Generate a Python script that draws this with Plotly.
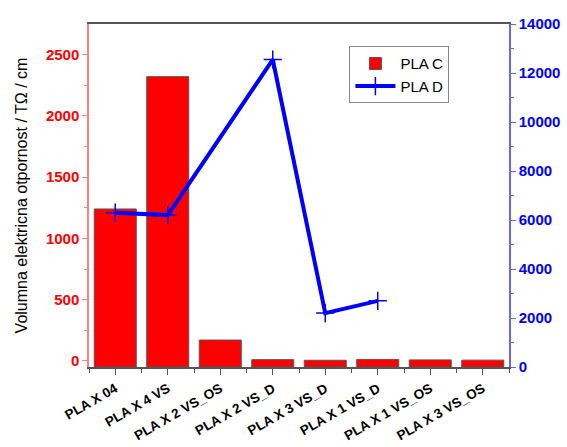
import plotly.graph_objects as go

categories = ["PLA X 04", "PLA X 4 VS", "PLA X 2 VS_OS", "PLA X 2 VS_D",
              "PLA X 3 VS_D", "PLA X 1 VS_D", "PLA X 1 VS_OS", "PLA X 3 VS_OS"]
pla_c = [1240, 2320, 170, 10, 5, 12, 8, 6]
pla_d = [6300, 6200, None, 12550, 2200, 2700, None, None]

Y_MIN = -50
Y_MAX = 2750
xpos = list(range(len(categories)))
FONT = "Liberation Sans, Arial, sans-serif"

fig = go.Figure()
fig.add_trace(go.Bar(
    x=xpos, y=[v - Y_MIN for v in pla_c], base=[Y_MIN] * len(pla_c),
    name="PLA C", width=0.8,
    marker=dict(color="#ff0000", line=dict(color="#555555", width=1)),
    customdata=pla_c, hovertemplate="%{customdata}<extra>PLA C</extra>",
))
fig.add_trace(go.Scatter(
    x=xpos, y=pla_d, name="PLA D", yaxis="y2", mode="lines+markers",
    connectgaps=True,
    line=dict(color="#0000ff", width=4),
    marker=dict(symbol="cross-thin", size=13, line=dict(color="#0000ff", width=1.5)),
))

fig.update_layout(
    width=567, height=447,
    margin=dict(l=89, r=58, t=24, b=80, autoexpand=False),
    paper_bgcolor="white", plot_bgcolor="white",
    font=dict(family=FONT, color="black"),
    showlegend=True,
    bargap=0.2,
    legend=dict(x=0.62, y=0.935, xanchor="left", yanchor="top",
                bgcolor="white", bordercolor="#888888", borderwidth=1,
                font=dict(size=15), tracegroupgap=0, itemwidth=40),
    xaxis=dict(
        range=[-0.5, len(categories) - 0.5], automargin=False,
        tickmode="array", tickvals=xpos, ticktext=categories,
        tickangle=-30, tickfont=dict(size=13.5, color="black", family=FONT, weight="bold"),
        ticklabelstandoff=1,
        showline=True, linecolor="#555555", linewidth=1.5, mirror=True,
        ticks="outside", ticklen=6, tickcolor="#555555",
        minor=dict(tick0=-0.5, dtick=1, ticks="outside", ticklen=4, tickcolor="#555555"),
        showgrid=False, zeroline=False,
    ),
    yaxis=dict(
        range=[Y_MIN, Y_MAX], tickvals=[0, 500, 1000, 1500, 2000, 2500], automargin=False,
        tickfont=dict(size=15, color="#ff0000", weight="bold"),
        showline=True, linecolor="#ff8080", linewidth=1.5,
        ticks="outside", ticklen=5, tickcolor="#ff8080",
        minor=dict(tickvals=[250, 750, 1250, 1750, 2250], ticks="outside", ticklen=3, tickcolor="#ff8080"),
        showgrid=False, zeroline=False,
        title=dict(text="Volumna elektricna otpornost / TΩ / cm", font=dict(size=16, color="black"), standoff=14),
    ),
    yaxis2=dict(
        range=[0, 14000], overlaying="y", side="right", dtick=2000, tickformat="d",
        automargin=False,
        tickfont=dict(size=15, color="#0000ff", weight="bold"),
        showline=True, linecolor="#6666ff", linewidth=1.5,
        ticks="outside", ticklen=5, tickcolor="#6666ff",
        minor=dict(dtick=1000, ticks="outside", ticklen=3, tickcolor="#6666ff"),
        showgrid=False, zeroline=False,
    ),
)

fig.write_html("out.html", config={"displayModeBar": False},
               post_script="document.body.style.margin='0';")
